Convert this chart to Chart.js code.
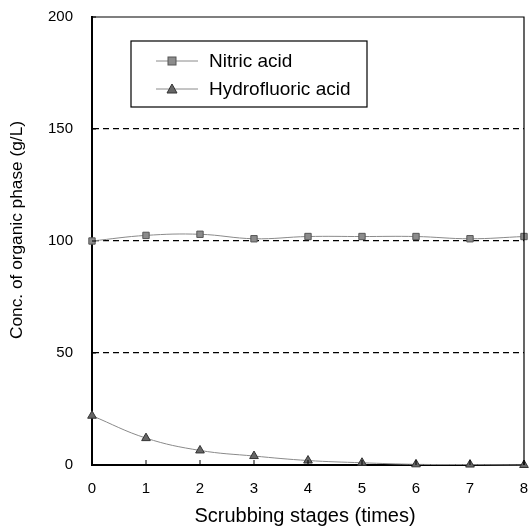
<!DOCTYPE html>
<html><head><meta charset="utf-8">
<script src="https://cdn.jsdelivr.net/npm/chart.js@4.4.0/dist/chart.umd.min.js"></script>
<style>html,body{margin:0;padding:0;background:#fff}#wrap{width:530px;height:531px}</style>
</head><body><div id="wrap"><canvas id="c" width="530" height="531"></canvas></div>
<script>
const stages = [0, 1, 2, 3, 4, 5, 6, 7, 8];
const nitricAcid = [100, 102.5, 103, 101, 102, 102, 102, 101, 102];
const hydrofluoricAcid = [22, 12, 6.5, 4, 2, 1, 0.3, 0.2, 0];
const yTicks = [0, 50, 100, 150, 200];
const seriesNames = ['Nitric acid', 'Hydrofluoric acid'];
const xTitle = 'Scrubbing stages (times)';
const yTitle = 'Conc. of organic phase (g/L)';
const FONT = '"Liberation Sans", Arial, sans-serif';

const frame = {
  id: 'frame',
  afterDraw(chart) {
    const {ctx, chartArea: a, scales: {x, y}} = chart;
    ctx.save();
    ctx.strokeStyle = '#000';
    ctx.lineWidth = 1.2;
    ctx.beginPath();
    ctx.moveTo(a.left, a.top); ctx.lineTo(a.right, a.top); ctx.lineTo(a.right, a.bottom);
    ctx.stroke();
    ctx.lineWidth = 1;
    yTicks.forEach(v => { const p = y.getPixelForValue(v); ctx.beginPath(); ctx.moveTo(a.left, p); ctx.lineTo(a.left + 4, p); ctx.stroke(); });
    stages.forEach(v => { const p = x.getPixelForValue(v); ctx.beginPath(); ctx.moveTo(p, a.bottom); ctx.lineTo(p, a.bottom - 5); ctx.stroke(); });
    // axis titles
    ctx.fillStyle = '#000'; ctx.textAlign = 'center'; ctx.textBaseline = 'middle';
    ctx.font = '20px ' + FONT;
    ctx.fillText(xTitle, 305, 516);
    ctx.save();
    ctx.translate(17, 230); ctx.rotate(-Math.PI / 2);
    ctx.font = '17.3px ' + FONT;
    ctx.fillText(yTitle, 0, 0);
    ctx.restore();
    // legend
    const bx = 131, by = 41, bw = 236, bh = 66;
    ctx.fillStyle = '#fff';
    ctx.fillRect(bx, by, bw, bh);
    ctx.strokeStyle = '#000';
    ctx.lineWidth = 1.2;
    ctx.strokeRect(bx, by, bw, bh);
    const rows = [by + 20, by + 48];
    chart.data.datasets.forEach((ds, i) => {
      const ry = rows[i];
      ctx.strokeStyle = ds.borderColor; ctx.lineWidth = 1;
      ctx.beginPath(); ctx.moveTo(156, ry); ctx.lineTo(198, ry); ctx.stroke();
      ctx.fillStyle = ds.pointBackgroundColor; ctx.strokeStyle = ds.pointBorderColor;
      const mx = 172;
      if (i === 0) { ctx.fillRect(mx - 4, ry - 4, 8, 8); ctx.strokeRect(mx - 4, ry - 4, 8, 8); }
      else { ctx.beginPath(); ctx.moveTo(mx, ry - 5); ctx.lineTo(mx + 5, ry + 4); ctx.lineTo(mx - 5, ry + 4); ctx.closePath(); ctx.fill(); ctx.stroke(); }
      ctx.fillStyle = '#000'; ctx.font = '19px ' + FONT; ctx.textBaseline = 'middle'; ctx.textAlign = 'left';
      ctx.fillText(ds.label, 209, ry + 1);
    });
    ctx.restore();
  }
};

new Chart(document.getElementById('c'), {
  type: 'line',
  data: {
    datasets: [
      { label: seriesNames[0], data: stages.map((s, i) => ({x: s, y: nitricAcid[i]})), clip: false,
        borderColor: '#8a8a8a', borderWidth: 1, pointStyle: 'rect', pointRadius: 4.5,
        pointBackgroundColor: '#8c8c8c', pointBorderColor: '#555', pointBorderWidth: 1, tension: 0.4 },
      { label: seriesNames[1], data: stages.map((s, i) => ({x: s, y: hydrofluoricAcid[i]})), clip: false,
        borderColor: '#8a8a8a', borderWidth: 1, pointStyle: 'triangle', pointRadius: 5,
        pointBackgroundColor: '#666', pointBorderColor: '#333', pointBorderWidth: 1, tension: 0.4 }
    ]
  },
  options: {
    responsive: false, animation: false, devicePixelRatio: 1,
    layout: { padding: { top: 17, right: 3, left: 0, bottom: 0 } },
    plugins: { legend: { display: false }, tooltip: { enabled: false } },
    scales: {
      x: { type: 'linear', min: 0, max: 8,
        afterFit: s => { s.height = 66; s.paddingLeft = 0; s.paddingRight = 0; },
        afterBuildTicks: s => { s.ticks = stages.map(v => ({value: v})); },
        grid: { display: false, drawTicks: false },
        border: { display: true, color: '#000', width: 2 },
        ticks: { color: '#000', font: { family: FONT, size: 15 }, padding: 15, maxRotation: 0 },
        title: { display: false } },
      y: { min: 0, max: 200,
        afterFit: s => { s.width = 92; s.paddingTop = 0; s.paddingBottom = 0; },
        afterBuildTicks: s => { s.ticks = yTicks.map(v => ({value: v})); },
        grid: { drawTicks: false, color: c => (c.tick && c.tick.value > 0 && c.tick.value < 200) ? '#000' : 'rgba(0,0,0,0)', lineWidth: 1.2 },
        border: { display: true, color: '#000', width: 2, dash: [6, 4] },
        ticks: { color: '#000', font: { family: FONT, size: 15 }, padding: 19 },
        title: { display: false } }
    }
  },
  plugins: [frame]
});
</script></body></html>
